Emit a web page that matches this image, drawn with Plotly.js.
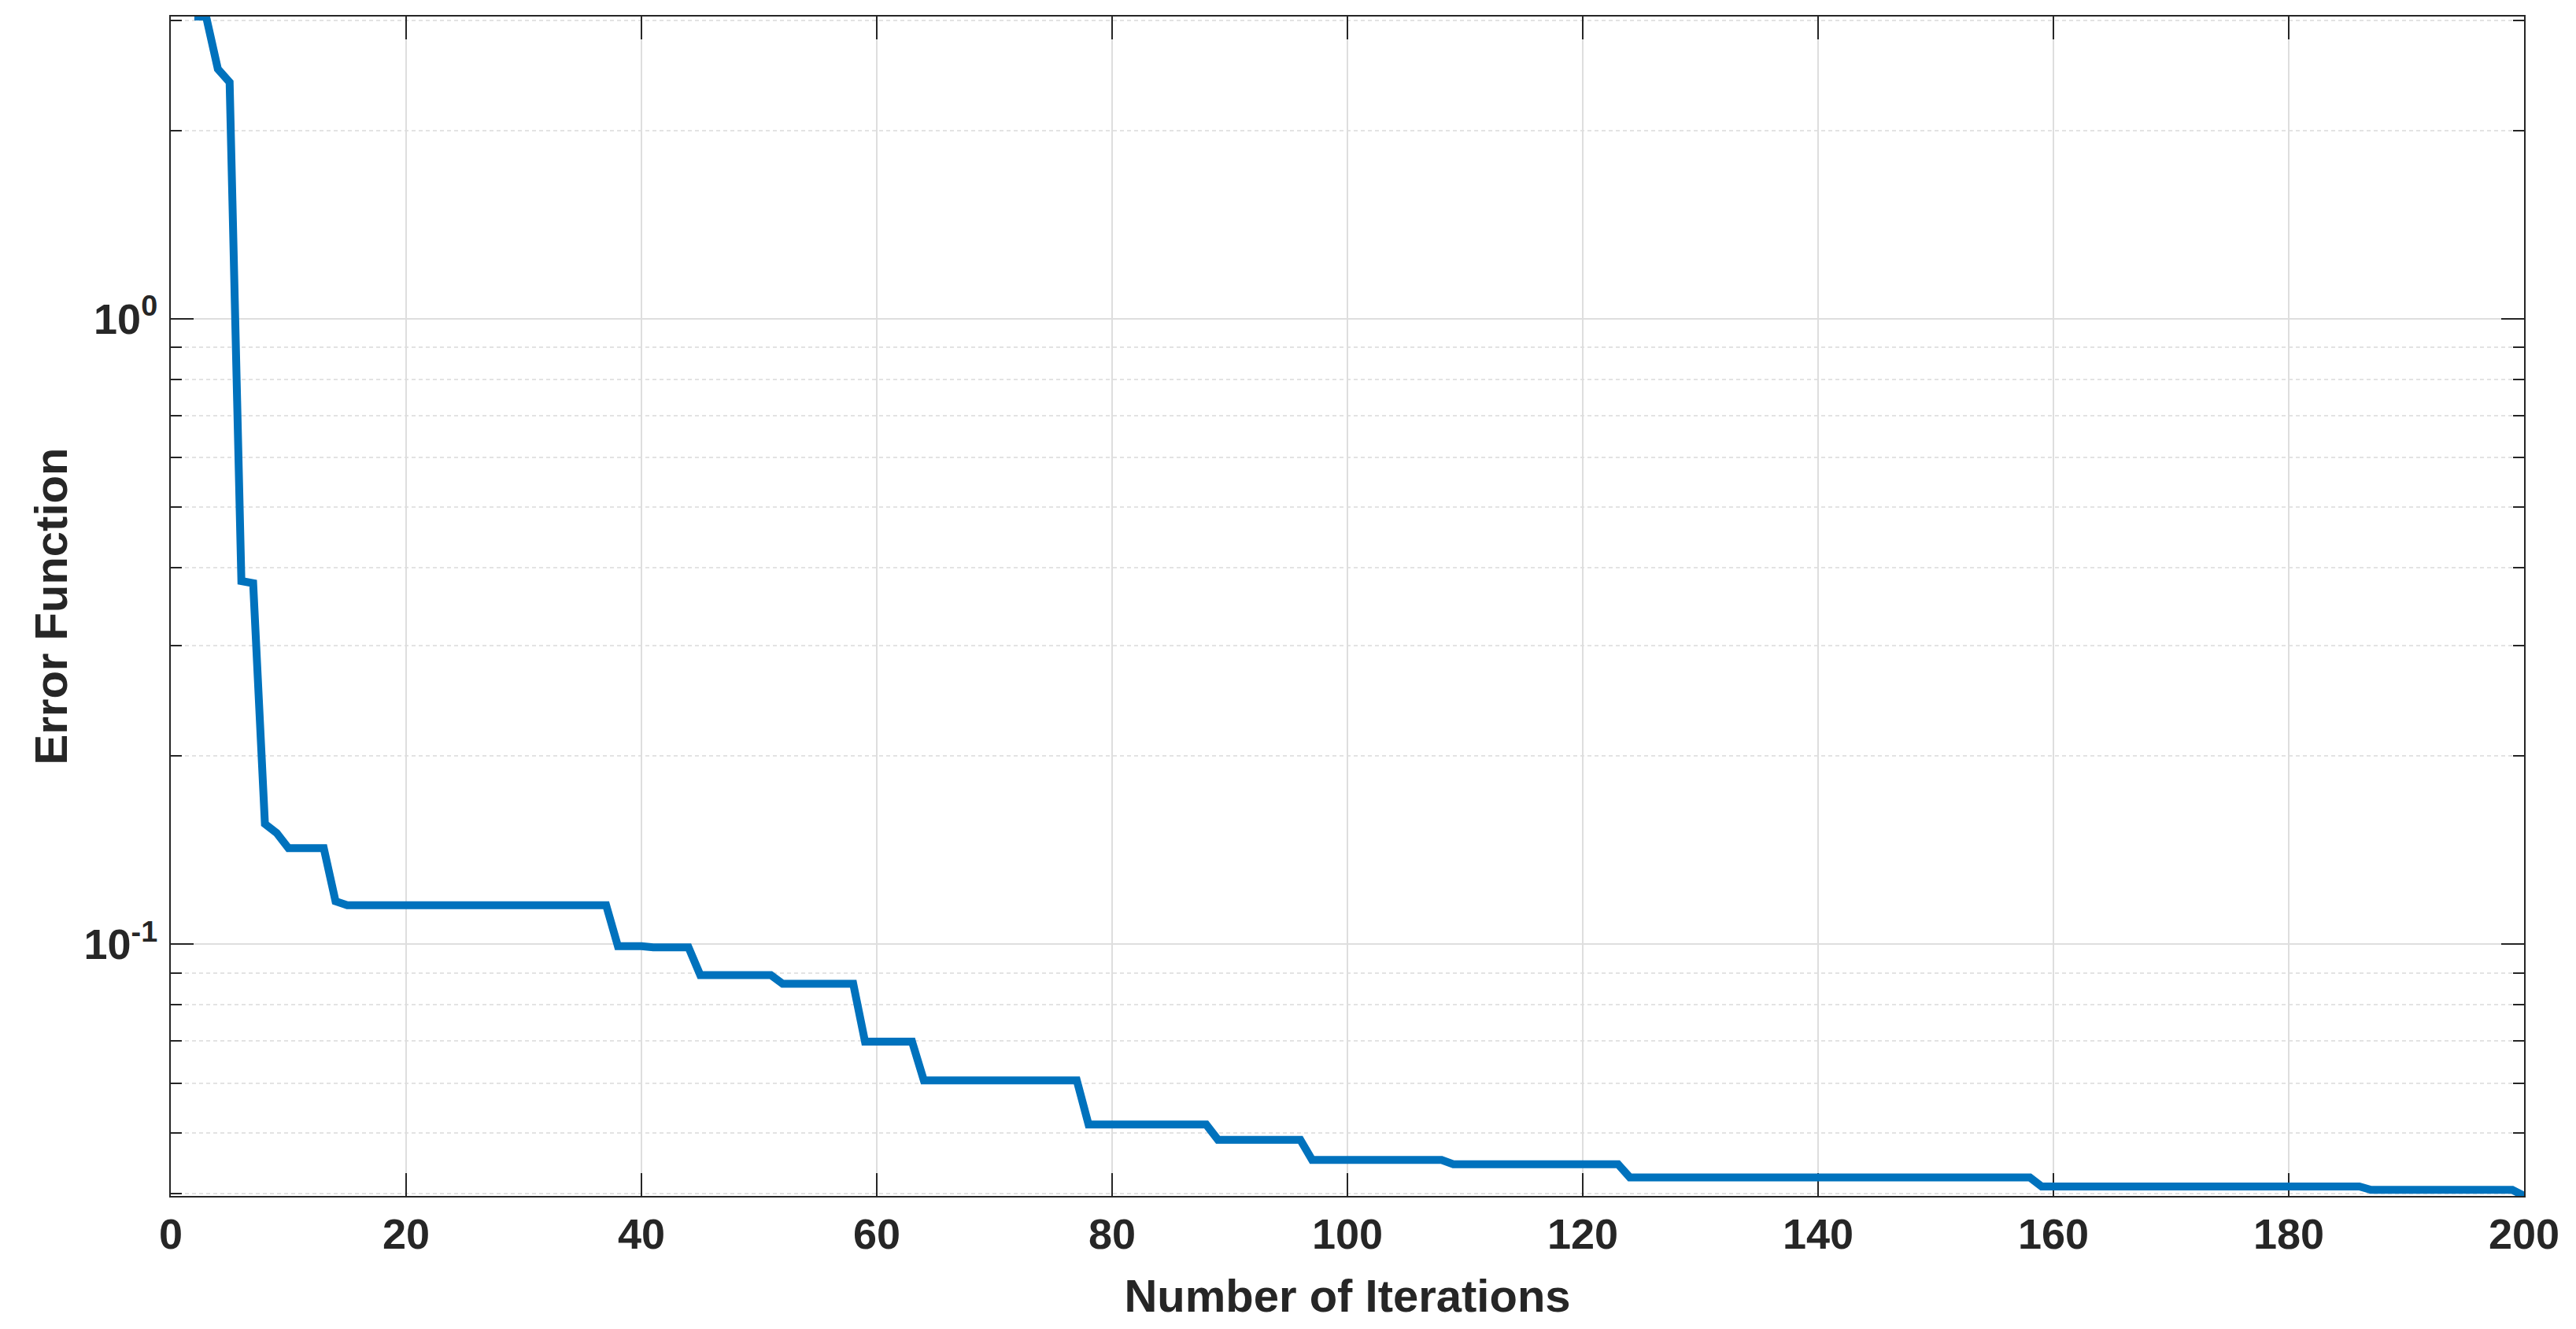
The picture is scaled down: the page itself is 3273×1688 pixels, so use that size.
<!DOCTYPE html>
<html>
<head>
<meta charset="utf-8">
<script src="https://cdn.plot.ly/plotly-3.0.1.min.js"></script>
<style>
  html, body { margin: 0; padding: 0; background: #ffffff; }
  #chart { width: 3273px; height: 1688px; }
</style>
</head>
<body>
<div id="chart"></div>
<script>
// Iteration numbers where the error curve changes (corner points of the stepped curve)
const iterations = [2, 3, 4, 5, 6, 7, 8, 9, 10, 13, 14, 15, 37, 38, 40, 41, 44, 45, 51, 52,
                    58, 59, 63, 64, 77, 78, 88, 89, 96, 97, 108, 109, 123, 124, 158, 159, 186, 187, 199, 200];
// Error function values at those iterations
const errorValues = [3.045, 3.045, 2.51, 2.39, 0.381, 0.378, 0.1558, 0.1507, 0.1425, 0.1425, 0.1172, 0.1155, 0.1155, 0.0993, 0.0993, 0.0989, 0.0989, 0.0893, 0.0893, 0.0865,
                     0.0865, 0.0699, 0.0699, 0.0606, 0.0606, 0.0515, 0.0515, 0.0487, 0.0487, 0.0452, 0.0452, 0.0445, 0.0445, 0.0424, 0.0424, 0.0410, 0.0410, 0.0405, 0.0405, 0.0396];

const xTickVals = [0, 20, 40, 60, 80, 100, 120, 140, 160, 180, 200];
const xTickText = ["0", "20", "40", "60", "80", "100", "120", "140", "160", "180", "200"];
const yMajorVals = [0.1, 1];
const yMajorText = ["10<sup>-1</sup>", "10<sup>0</sup>"];
const yMinorVals = [0.04, 0.05, 0.06, 0.07, 0.08, 0.09, 0.2, 0.3, 0.4, 0.5, 0.6, 0.7, 0.8, 0.9, 2, 3];

const xLabel = "Number of Iterations";
const yLabel = "Error Function";

const fontFamily = "Liberation Sans, Arial, Helvetica, sans-serif";
const axisColor = "#262626";

const trace = {
  type: "scatter",
  mode: "lines",
  x: iterations,
  y: errorValues,
  line: { color: "#0072BD", width: 10 },
  showlegend: false,
  hoverinfo: "x+y"
};

const yMin = Math.min(...errorValues);
const yMax = Math.max(...errorValues);

const layout = {
  width: 3273,
  height: 1688,
  paper_bgcolor: "#ffffff",
  plot_bgcolor: "#ffffff",
  margin: { l: 217, r: 66, t: 21, b: 169, pad: 0 },
  showlegend: false,
  font: { family: fontFamily, color: axisColor, size: 54 },
  xaxis: {
    range: [0, 200],
    tickmode: "array",
    tickvals: xTickVals,
    ticktext: xTickText,
    ticks: "inside",
    ticklen: 29,
    tickwidth: 2,
    tickcolor: axisColor,
    showline: true,
    linecolor: axisColor,
    linewidth: 2,
    mirror: "ticks",
    showgrid: true,
    gridcolor: "#dedede",
    gridwidth: 2,
    zeroline: false,
    layer: "below traces",
    tickfont: { family: fontFamily, size: 54, color: axisColor, weight: "bold" },
    ticklabelstandoff: 0,
    title: {
      text: xLabel,
      font: { family: fontFamily, size: 58, color: axisColor, weight: "bold" },
      standoff: 30
    }
  },
  yaxis: {
    type: "log",
    range: [Math.log10(yMin), Math.log10(yMax)],
    tickmode: "array",
    tickvals: yMajorVals,
    ticktext: yMajorText,
    ticks: "inside",
    ticklen: 29,
    tickwidth: 2,
    tickcolor: axisColor,
    showline: true,
    linecolor: axisColor,
    linewidth: 2,
    mirror: "ticks",
    showgrid: true,
    gridcolor: "#dedede",
    gridwidth: 2,
    zeroline: false,
    layer: "below traces",
    minor: {
      tickmode: "array",
      tickvals: yMinorVals,
      ticks: "inside",
      ticklen: 14,
      tickwidth: 2,
      tickcolor: axisColor,
      showgrid: true,
      gridcolor: "#e3e3e3",
      gridwidth: 2,
      griddash: "5px,4px"
    },
    tickfont: { family: fontFamily, size: 54, color: axisColor, weight: "bold" },
    ticklabelstandoff: 4,
    title: {
      text: yLabel,
      font: { family: fontFamily, size: 58, color: axisColor, weight: "bold" },
      standoff: 2
    }
  }
};

Plotly.newPlot("chart", [trace], layout, { displayModeBar: false, staticPlot: true });
</script>
</body>
</html>
